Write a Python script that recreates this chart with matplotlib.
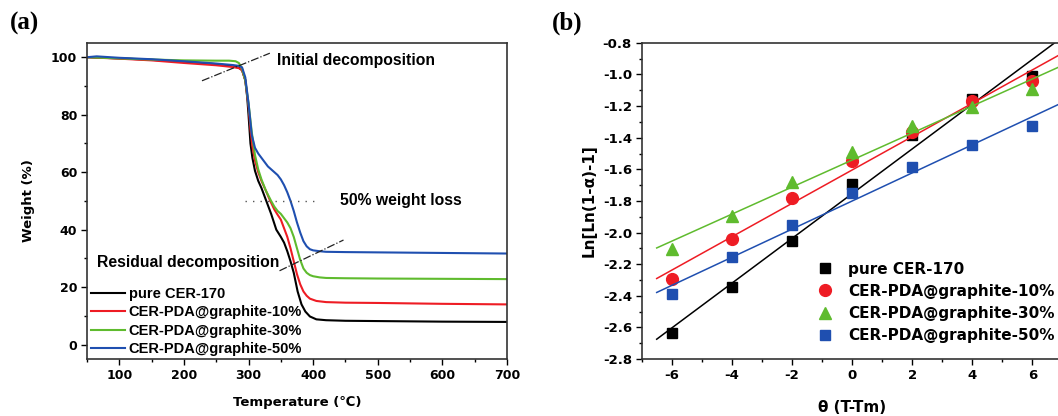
import numpy as np
import matplotlib

matplotlib.use("Agg")
import matplotlib.pyplot as plt
from matplotlib.ticker import MultipleLocator, FormatStrFormatter

plt.rcParams["font.family"] = ["DejaVu Sans"]
plt.rcParams["font.weight"] = "bold"
plt.rcParams["axes.unicode_minus"] = False

# ---- panel (a): TGA curves ----
labels = ["pure CER-170", "CER-PDA@graphite-10%", "CER-PDA@graphite-30%", "CER-PDA@graphite-50%"]
colors = ["#000000", "#ee1c24", "#5fbb2e", "#1f4fb0"]

t_pure = [50, 100, 150, 200, 250, 275, 285, 290, 295, 298, 300, 303, 306, 310, 315, 320, 327, 335, 343,
          350, 355, 360, 365, 370, 376, 382, 388, 395, 405, 420, 450, 500, 600, 700]
w_pure = [100, 99.6, 99.1, 98.4, 97.6, 96.9, 96.4, 95.5, 92, 86, 80, 70, 65, 60.5, 57, 54.5, 50.3, 45.5, 40,
          37.5, 35.5, 32.5, 29, 25, 18.5, 14, 11.5, 9.8, 8.8, 8.5, 8.3, 8.2, 8.0, 7.9]

t_10 = [50, 100, 150, 200, 250, 275, 285, 290, 295, 300, 303, 306, 310, 315, 320, 327, 333, 340, 345, 350,
        355, 360, 365, 370, 375, 380, 385, 390, 395, 405, 420, 450, 500, 600, 700]
w_10 = [100, 99.5, 98.9, 98.0, 97.2, 96.6, 96.2, 95.5, 92, 83, 75, 69, 64, 60, 57, 53.5, 50.3, 47, 45.2, 43.5,
        40.5, 37.5, 33.5, 29, 24.5, 21, 18.5, 17, 16, 15.2, 14.8, 14.6, 14.5, 14.2, 14.0]

t_30 = [50, 100, 150, 200, 250, 270, 280, 285, 290, 295, 300, 305, 310, 315, 320, 327, 335, 340, 345, 350,
        355, 360, 365, 370, 375, 380, 385, 390, 395, 400, 410, 420, 450, 500, 600, 700]
w_30 = [100, 99.6, 99.2, 98.9, 98.8, 98.8, 98.6, 98, 96, 92, 84, 74, 66, 61, 57.5, 53.5, 50, 48, 46.5, 45.5,
        44, 42.5, 40.5, 37.5, 33.5, 29.5, 26.5, 25, 24.2, 23.8, 23.4, 23.2, 23.1, 23.0, 22.9, 22.8]

t_50 = [50, 65, 100, 150, 200, 250, 275, 285, 290, 295, 300, 305, 310, 315, 320, 330, 340, 345, 350, 355,
        360, 365, 370, 375, 380, 385, 390, 395, 400, 410, 420, 450, 500, 600, 700]
w_50 = [100, 100.3, 99.8, 99.3, 98.6, 97.8, 97.3, 97, 96.5, 93, 84, 73, 68.5, 66.5, 65, 62, 60, 59, 57.5, 55.5,
        53, 50, 46.5, 42.5, 39, 36, 34.2, 33.2, 32.8, 32.5, 32.3, 32.2, 32.1, 31.9, 31.7]

# ---- panel (b): Ln[Ln(1-a)-1] vs theta ----
theta = [-6, -4, -2, 0, 2, 4, 6]
ln_pure = [-2.634, -2.347, -2.056, -1.696, -1.384, -1.154, -1.011]
ln_10 = [-2.292, -2.041, -1.780, -1.546, -1.363, -1.169, -1.042]
ln_30 = [-2.107, -1.896, -1.681, -1.489, -1.323, -1.205, -1.091]
ln_50 = [-2.391, -2.153, -1.953, -1.753, -1.584, -1.449, -1.323]

fig = plt.figure(figsize=(10.58, 4.16), dpi=100)
ax1 = fig.add_axes([0.0822, 0.137, 0.397, 0.760])
ax2 = fig.add_axes([0.6065, 0.137, 0.3976, 0.760])

LIB = ["Liberation Sans", "DejaVu Sans"]


def style_axes(ax, size):
    for s in ax.spines.values():
        s.set_linewidth(1.2)
        s.set_color("#333333")
    ax.tick_params(which="both", direction="out", top=False, right=False, labelsize=size, width=1.0)
    ax.tick_params(which="major", length=4, pad=3)
    ax.tick_params(which="minor", length=2.5)
    for lab in ax.get_xticklabels() + ax.get_yticklabels():
        lab.set_fontweight("bold")


# panel (a)
for t, w, lab, c in zip([t_pure, t_10, t_30, t_50], [w_pure, w_10, w_30, w_50], labels, colors):
    ax1.plot(t, w, color=c, lw=1.5, label=lab)

ax1.plot([228, 333], [91.8, 101.4], color="#222222", lw=0.9, ls="-.")
ax1.plot([295, 408], [50, 50], color="#555555", lw=1.0, ls=(0, (1, 4.4)))
ax1.plot([348, 447], [25.7, 36.4], color="#222222", lw=0.9, ls="-.")
ax1.text(344, 99, "Initial decomposition", fontsize=11.3, fontweight="bold", va="center", family=LIB)
ax1.text(441, 50, "50% weight loss", fontsize=11.3, fontweight="bold", va="center", family=LIB)
ax1.text(65, 28.7, "Residual decomposition", fontsize=11.3, fontweight="bold", va="center", family=LIB)

ax1.set_xlim(50, 700)
ax1.set_ylim(-5, 105)
ax1.xaxis.set_major_locator(MultipleLocator(100))
ax1.xaxis.set_minor_locator(MultipleLocator(50))
ax1.yaxis.set_major_locator(MultipleLocator(20))
ax1.yaxis.set_minor_locator(MultipleLocator(10))
ax1.set_xlabel("Temperature (℃)", fontsize=9.5, fontweight="bold", va="top")
ax1.set_ylabel("Weight (%)", fontsize=9.5, fontweight="bold")
ax1.xaxis.set_label_coords(0.5, -0.117)
ax1.yaxis.set_label_coords(-0.124, 0.5)
style_axes(ax1, 9)
ax1.legend(loc="upper left", bbox_to_anchor=(0.0088, 0.228), frameon=False,
           prop={"family": LIB, "size": 10.5, "weight": "bold"},
           handlelength=2.33, handletextpad=0.27, labelspacing=0.30, borderaxespad=0, borderpad=0)

# panel (b)
xfit = np.array([-6.5, 7.5])
markers = ["s", "o", "^", "s"]
msizes = [7.5, 8.5, 9, 7.5]
for y, lab, c, m, ms in zip([ln_pure, ln_10, ln_30, ln_50], labels, colors, markers, msizes):
    k, b = np.polyfit(theta, y, 1)
    ax2.plot(xfit, k * xfit + b, color=c, lw=1.1)
    ax2.plot(theta, y, ls="none", marker=m, ms=ms, color=c, mec=c, label=lab)

ax2.set_xlim(-7, 7)
ax2.set_ylim(-2.8, -0.8)
ax2.xaxis.set_major_locator(MultipleLocator(2))
ax2.xaxis.set_minor_locator(MultipleLocator(1))
ax2.yaxis.set_major_locator(MultipleLocator(0.2))
ax2.yaxis.set_minor_locator(MultipleLocator(0.1))
ax2.yaxis.set_major_formatter(FormatStrFormatter("%.1f"))
ax2.set_xlabel("θ (T-Tm)", fontsize=11, fontweight="bold", va="top")
ax2.set_ylabel("Ln[Ln(1-α)-1]", fontsize=11, fontweight="bold")
ax2.xaxis.set_label_coords(0.5, -0.13)
ax2.yaxis.set_label_coords(-0.106, 0.5)
style_axes(ax2, 9.5)
ax2.legend(loc="upper left", bbox_to_anchor=(0.40, 0.308), frameon=False, fontsize=11,
           handlelength=2.0, handletextpad=0.5, labelspacing=0.47, borderaxespad=0, borderpad=0)

fig.text(0.009, 1 - 12 / 416, "(a)", fontsize=18, fontweight="bold", family="Liberation Serif", va="top")
fig.text(0.522, 1 - 12 / 416, "(b)", fontsize=18, fontweight="bold", family="Liberation Serif", va="top")

fig.savefig("out.png", dpi=100)
